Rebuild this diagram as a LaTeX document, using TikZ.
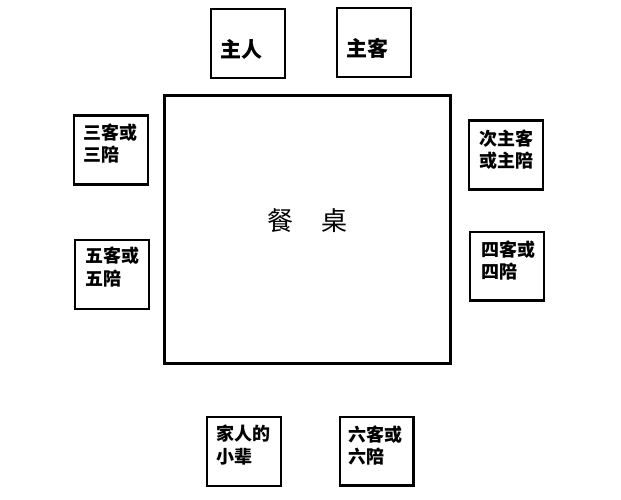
\documentclass[tikz,border=0pt]{standalone}
\usepackage{fontspec}
\newfontfamily\cjk{Noto Sans CJK SC}
\usetikzlibrary{positioning}
\begin{document}
\begin{tikzpicture}[x=1pt, y=-1pt,
        seat/.style={draw, line width=2.4pt, minimum width=73.6pt, minimum height=68.6pt, inner sep=0pt},
        who/.style={inner sep=0pt, align=left, font=\cjk\bfseries\fontsize{18}{22.5}\selectfont},
        desk/.style={draw, line width=2.6pt, minimum width=286pt, minimum height=268pt, inner sep=0pt}]
    \useasboundingbox (0,0) rectangle (621,500);
    \node[desk] (tab) at (307.5,229.5) {};
    \node[font=\cjk\fontsize{26}{26}\selectfont] (tablabel) at (307.5,220.5) {餐\hspace{29pt}桌};
    % seats
    \node[seat] (host) at (248,43.5) {};
    \node[seat] (guest) at (374,42.5) {};
    \node[seat] (third) at (111,150) {};
    \node[seat] (second) at (506,155) {};
    \node[seat] (fifth) at (112,274.5) {};
    \node[seat] (fourth) at (507,266) {};
    \node[seat] (family) at (244,451.5) {};
    \node[seat] (sixth) at (376.5,451) {};
    % names
    \node[who, font=\cjk\bfseries\fontsize{21}{21}\selectfont, below right=31pt and 10pt of host.north west] (hosttext) {主人};
    \node[who, font=\cjk\bfseries\fontsize{21}{21}\selectfont, below right=31pt and 10pt of guest.north west] (guesttext) {主客};
    \node[who, below right=9pt and 10pt of third.north west] (thirdtext) {三客或\\三陪};
    \node[who, below right=10pt and 11pt of second.north west] (secondtext) {次主客\\或主陪};
    \node[who, below right=10pt and 12pt of fourth.north west] (fourthtext) {四客或\\四陪};
    \node[who, below right=8pt and 11pt of fifth.north west] (fifthtext) {五客或\\五陪};
    \node[who, below right=9pt and 10pt of family.north west] (familytext) {家人的\\小辈};
    \node[who, below right=10pt and 10pt of sixth.north west] (sixthtext) {六客或\\六陪};
\end{tikzpicture}
\end{document}
